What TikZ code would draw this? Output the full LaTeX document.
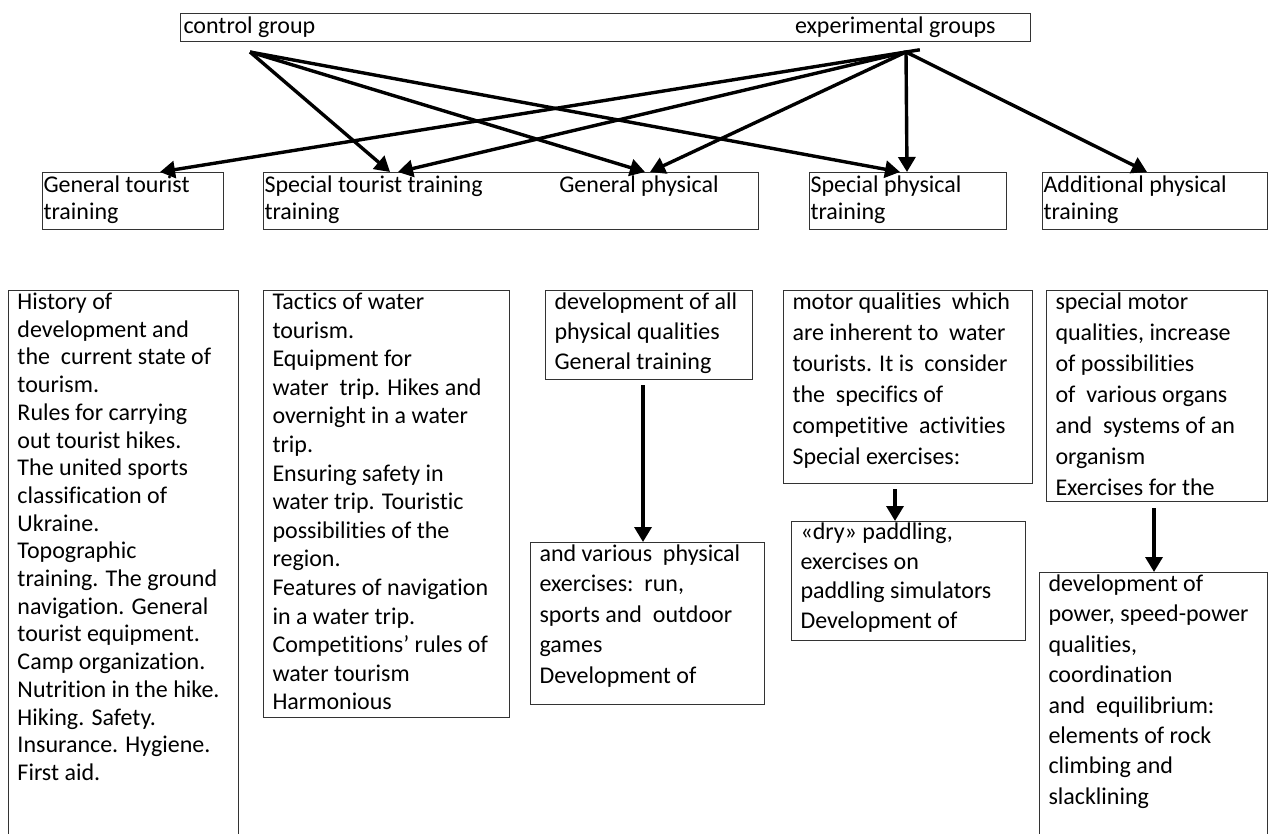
\documentclass[tikz,border=0pt]{standalone}
\usepackage{fontspec}
\setmainfont{Carlito}[Ligatures=NoCommon]
\usetikzlibrary{arrows.meta}
\begin{document}
\begin{tikzpicture}[x=0.5pt,y=-0.5pt,
  box/.style={draw=black!80,line width=0.5pt,anchor=north west,align=flush left,inner ysep=0pt},
  kind/.style={box,inner xsep=0.5pt,text height=10pt,text depth=18.5pt,font=\fontsize{12}{13.5}\selectfont},
  topic/.style={box,inner xsep=4.5pt,text height=9.5pt},
  arr/.style={line width=1.7pt,-{Triangle[length=7.5pt,width=8.5pt]}}]
\useasboundingbox (0,0) rectangle (1268,834);
\clip (0,0) rectangle (1268,834);
% groups
\node[box,inner xsep=1.5pt,text width=422pt,text height=10pt,text depth=4pt,font=\fontsize{12}{14}\selectfont] (grp) at (180,13)
  {control group\hskip 0pt plus 1filll experimental groups\hspace*{16pt}\null};
\coordinate (ctl) at (250,52);
\coordinate (exp) at (906,52);
% kinds of training
\node[kind,text width=89.5pt] (gtt) at (42,172) {General tourist\\training};
\node[kind,text width=246.5pt] (stt) at (263,172) {Special tourist training\hskip 0pt plus 1filll General physical\hspace*{19.5pt}\null\\training};
\node[kind,text width=97.5pt] (spt) at (809,172) {Special physical\\training};
\node[kind,text width=111.5pt] (apt) at (1042,172) {Additional physical\\training};
\foreach \b/\x in {stt/390,stt/645,spt/900}
  \draw[arr] (ctl) -- (\b.north -| \x,0);
\foreach \b/\x in {stt/398,stt/650,spt/907,apt/1147}
  \draw[arr] (exp) -- (\b.north -| \x,0);
\draw[arr,shorten <=-7pt] (exp) -- (gtt.north -| 160,0);
% contents
\node[topic,text width=106pt,text depth=270.5pt,font=\fontsize{12}{13.85}\selectfont] (hist) at (8,290)
  {History of\\development and\\the\ \ current state of\\tourism.\\Rules for carrying\\out tourist hikes.\\The united sports\\classification of\\Ukraine.\\Topographic\\training. The ground\\navigation. General\\tourist equipment.\\Camp organization.\\Nutrition in the hike.\\Hiking. Safety.\\Insurance. Hygiene.\\First aid.};
\node[topic,text width=114pt,text depth=204pt,font=\fontsize{12}{14.3}\selectfont] (tact) at (263,290)
  {Tactics of water\\tourism.\\Equipment for\\water\ \ trip. Hikes and\\overnight in a water\\trip.\\Ensuring safety in\\water trip. Touristic\\possibilities of the\\region.\\Features of navigation\\in a water trip.\\Competitions’ rules of\\water tourism\\Harmonious};
\node[topic,text width=94.5pt,text depth=35pt,font=\fontsize{12}{15}\selectfont] (dev) at (545,290)
  {development of all\\physical qualities\\General training};
\node[topic,text width=115.5pt,text depth=87pt,font=\fontsize{12}{15.5}\selectfont] (mot) at (783,290)
  {motor qualities\ \ which\\are inherent to\ \ water\\tourists. It is\ \ consider\\the\ \ specifics of\\competitive\ \ activities\\Special exercises:};
\node[topic,text width=101.5pt,text depth=96pt,font=\fontsize{12}{15.5}\selectfont] (smot) at (1046,290)
  {special motor\\qualities, increase\\of possibilities\\of\ \ various organs\\and\ \ systems of an\\organism\\Exercises for the};
\node[topic,text width=108pt,text depth=71.5pt,font=\fontsize{12}{15.2}\selectfont] (var) at (530,542)
  {and various\ \ physical\\exercises:\ \ run,\\sports and\ \ outdoor\\games\\Development of};
\node[topic,text width=108pt,text height=9pt,text depth=50.5pt,font=\fontsize{12}{14.75}\selectfont] (dry) at (791,521)
  {«dry» paddling,\\exercises on\\paddling simulators\\Development of};
\node[topic,text width=105pt,text depth=129.5pt,font=\fontsize{12}{15.2}\selectfont] (pow) at (1039,572)
  {development of\\power, speed-power\\qualities,\\coordination\\and\ \ equilibrium:\\elements of rock\\climbing and\\slacklining};
\draw[arr,shorten <=2.5pt] (dev.south -| 643,0) -- (var.north -| 643,0);
\draw[arr,shorten <=2.5pt] (mot.south -| 895,0) -- (dry.north -| 895,0);
\draw[arr,shorten <=3pt] (smot.south -| 1154,0) -- (pow.north -| 1154,0);
\end{tikzpicture}
\end{document}
